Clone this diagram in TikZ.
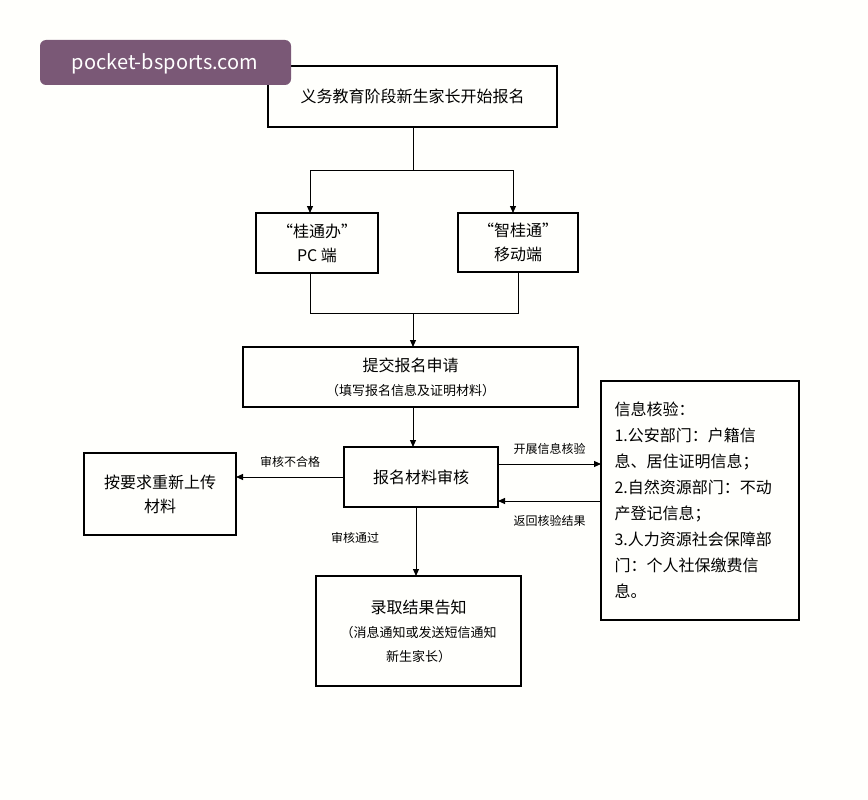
\documentclass[tikz,border=0pt]{standalone}
\usepackage{fontspec}
\setmainfont{Noto Sans CJK SC}
\usetikzlibrary{arrows.meta}
\definecolor{wmc}{RGB}{122,88,118}
\begin{document}
\begin{tikzpicture}[x=1pt,y=-1pt,
  box/.style={draw,line width=1.6pt,inner sep=0pt},
  ln/.style={line width=1pt},
  ar/.style={line width=1pt,-{Triangle[length=7pt,width=6pt]}},
  lbl/.style={font=\fontsize{12}{14}\selectfont},
  txt/.style={font=\fontsize{16}{24}\selectfont,align=center}]
\fill[white!99!yellow] (0,0) rectangle (868,800);
\useasboundingbox (0,0) rectangle (868,800);
\draw[box] (268,66) rectangle (557,127) node[midway,txt] (top) {义务教育阶段新生家长开始报名};
\draw[box] (256,213) rectangle (378,273) node[midway,txt] (pc) {“桂通办”\\PC 端};
\draw[box] (458,213) rectangle (578,272) node[midway,txt] (mb) {“智桂通”\\移动端};
\draw[box] (243,347) rectangle (578,407) node[midway,txt] (sub) {提交报名申请\\{\fontsize{13}{24}\selectfont （填写报名信息及证明材料）}};
\draw[box] (344,447) rectangle (498,507) node[midway,txt] (rev) {报名材料审核};
\draw[box] (84,453) rectangle (236,535) node[midway,txt] (re) {按要求重新上传\\材料};
\draw[box] (601,381) rectangle (799,620);
\node[txt,align=left,anchor=north west,font=\fontsize{16}{26}\selectfont] (info) at (611,398) {信息核验：\\1.公安部门：户籍信\\息、居住证明信息；\\2.自然资源部门：不动\\产登记信息；\\3.人力资源社会保障部\\门：个人社保缴费信\\息。};
\draw[box] (316,576) rectangle (521,686) node[midway,txt] (res) {录取结果告知\\{\fontsize{13}{24}\selectfont （消息通知或发送短信通知}\\{\fontsize{13}{24}\selectfont 新生家长）}};
\coordinate (a1) at (413,127); \coordinate (a2) at (413,170);
\draw[ln] (a1) -- (a2);
\draw[ln] (310,170) -- (513,170);
\draw[ar] (310,170) -- (310,213);
\draw[ar] (513,170) -- (513,213);
\draw[ln] (310,273) -- (310,313) -- (518,313) -- (518,272);
\draw[ar] (413,313) -- (413,347);
\draw[ar] (413,407) -- (413,447);
\draw[ar] (344,477) -- (236,477) node[midway,above=6pt,lbl] {审核不合格};
\draw[ar] (498,464) -- (601,464) node[midway,above=6pt,lbl] {开展信息核验};
\draw[ar] (601,501) -- (498,501) node[midway,below=10pt,lbl] {返回核验结果};
\draw[ar] (416,507) -- (416,576);
\node[lbl] at (355,538) {审核通过};
\fill[rounded corners=6pt,wmc] (40,40) rectangle (291,85);
\node[white,font=\fontsize{20}{24}\selectfont] (wm) at (165,64) {pocket-bsports.com};
\end{tikzpicture}
\end{document}
